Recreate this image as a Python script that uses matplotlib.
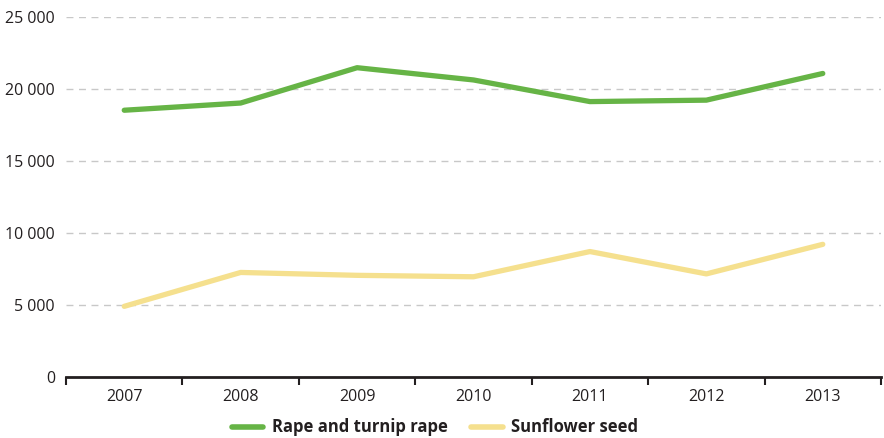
import matplotlib
matplotlib.use("Agg")
from matplotlib import pyplot as plt
from matplotlib.ticker import FuncFormatter, FixedLocator
import numpy as np

# Data
years = ["2007", "2008", "2009", "2010", "2011", "2012", "2013"]
rape = [18500, 19000, 21450, 20600, 19100, 19200, 21050]
sunflower = [4900, 7250, 7050, 6950, 8700, 7150, 9200]
series_names = ["Rape and turnip rape", "Sunflower seed"]

plt.rcParams["font.family"] = ["Open Sans", "DejaVu Sans"]

fig = plt.figure(figsize=(8.84, 4.38), dpi=100)
ax = fig.add_axes([0.0747, 0.1393, 0.9219, 0.823])

x = np.arange(len(years))
ax.plot(x, rape, color="#66b446", lw=3.8, solid_capstyle="round",
        solid_joinstyle="round", label=series_names[0], zorder=3)
ax.plot(x, sunflower, color="#f5e08e", lw=3.8, solid_capstyle="round",
        solid_joinstyle="round", label=series_names[1], zorder=3)

ax.set_xlim(-0.5, len(years) - 0.5)
ax.set_ylim(0, 25000)

# y axis: dashed grid, no tick marks
ax.set_yticks(np.arange(0, 25001, 5000))
ax.yaxis.set_major_formatter(FuncFormatter(lambda v, p: "{:,.0f}".format(v).replace(",", " ")))
ax.tick_params(axis="y", length=0, pad=8, labelsize=11.5, colors="#231f20")
ax.yaxis.grid(True, color="#c8c8c8", lw=1.0, ls=(0, (5, 4)))
ax.set_axisbelow(True)

# x axis: labels at category centres, tick marks at boundaries
ax.set_xticks(x)
ax.set_xticklabels(years)
ax.xaxis.set_minor_locator(FixedLocator(np.arange(-0.5, len(years), 1.0)))
ax.tick_params(axis="x", which="major", length=0, pad=9, labelsize=11.5, colors="#231f20")
ax.tick_params(axis="x", which="minor", length=6, width=1.5, direction="out", color="#231f20")

for side in ["top", "right", "left"]:
    ax.spines[side].set_visible(False)
ax.spines["bottom"].set_color("#231f20")
ax.spines["bottom"].set_linewidth(2)

leg = fig.legend(loc="center", bbox_to_anchor=(0.492, 0.024), ncol=2, frameon=False,
                 handlelength=1.9, columnspacing=1.4, handletextpad=0.5,
                 prop={"weight": "bold", "size": 12})
for h in leg.get_lines():
    h.set_linewidth(4.0)
for t in leg.get_texts():
    t.set_color("#231f20")

fig.savefig("out.png", dpi=100)
